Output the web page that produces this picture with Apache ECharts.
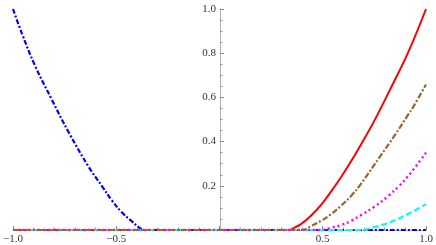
<!DOCTYPE html>
<html>
<head>
<meta charset="utf-8">
<script src="https://cdn.jsdelivr.net/npm/echarts@6/dist/echarts.min.js"></script>
<style>html,body{margin:0;padding:0;background:#fff}#c{width:436px;height:245px}</style>
</head>
<body>
<div id="c"></div>
<script>
// Data
var xTicks = [-1.0, -0.5, 0, 0.5, 1.0];
var yTicks = [0, 0.2, 0.4, 0.6, 0.8, 1.0];
var blueData = [[-1,1.0],[-0.957,0.89],[-0.894,0.745],[-0.812,0.59],[-0.729,0.44],[-0.633,0.285],[-0.57,0.2],[-0.522,0.135],[-0.473,0.08],[-0.425,0.04],[-0.39,0.012],[-0.365,0],[0,0],[1,0]];
var redData = [[-1,0],[0,0],[0.34,0],[0.348,0.003],[0.396,0.028],[0.444,0.066],[0.493,0.115],[0.541,0.175],[0.589,0.24],[0.638,0.312],[0.686,0.388],[0.75,0.495],[0.831,0.645],[0.912,0.80],[1,1]];
var brownData = [[-1,0],[0,0],[0.40,0],[0.444,0.018],[0.493,0.042],[0.541,0.072],[0.589,0.11],[0.638,0.155],[0.686,0.21],[0.783,0.34],[0.85,0.43],[0.912,0.52],[0.937,0.555],[1,0.658]];
var magentaData = [[-1,0],[0,0],[0.49,0],[0.541,0.01],[0.589,0.022],[0.638,0.042],[0.686,0.068],[0.75,0.105],[0.816,0.153],[0.87,0.2],[0.913,0.243],[1,0.35]];
var cyanData = [[-1,0],[0,0],[0.68,0],[0.749,0.013],[0.831,0.037],[0.912,0.072],[1,0.117]];

function fmt(v){
  if (Math.abs(v) < 1e-9) return '';
  var s = Math.abs(v).toFixed(1);
  return (v < 0 ? '\u2212' : '') + s;
}
var font = 'Liberation Serif';
var chart = echarts.init(document.getElementById('c'), null, {renderer:'canvas'});
function ser(name, data, color, type, width, z){
  return {name:name, type:'line', data:data, smooth:0.4, showSymbol:false, symbol:'none',
    z:z, lineStyle:{color:color, width:width, type:type}};
}
chart.setOption({
  animation:false,
  grid:{left:11, right:10, top:9, bottom:14, containLabel:false},
  xAxis:{type:'value', min:-1, max:1, interval:0.5,
    axisLine:{onZero:true, lineStyle:{color:'#b0b0b0', width:1}},
    axisTick:{inside:true, length:4, lineStyle:{color:'#888'}},
    minorTick:{show:true, splitNumber:5, length:2.5, lineStyle:{color:'#999'}},
    splitLine:{show:false},
    axisLabel:{formatter:fmt, color:'#333', fontFamily:font, fontSize:11, margin:4}},
  yAxis:{type:'value', min:0, max:1, interval:0.2, offset:-207,
    axisLine:{show:true, onZero:false, lineStyle:{color:'#b0b0b0', width:1}},
    axisTick:{show:true, inside:true, length:4, lineStyle:{color:'#888'}},
    minorTick:{show:true, splitNumber:4, length:2.5, lineStyle:{color:'#999'}},
    splitLine:{show:false},
    axisLabel:{formatter:fmt, color:'#333', fontFamily:font, fontSize:11, margin:4}},
  series:[
    ser('red', redData, '#ff0000', 'solid', 2, 2),
    ser('blue', blueData, '#0000ff', [5,2,2,2], 2.2, 3),
    ser('cyan', cyanData, '#00ffff', [6,3], 2.2, 4),
    ser('magenta', magentaData, '#ff00ff', [2,3], 2.4, 5),
    ser('brown', brownData, '#996633', [6,2,2,2], 2.2, 6)
  ]
});
</script>
</body>
</html>
